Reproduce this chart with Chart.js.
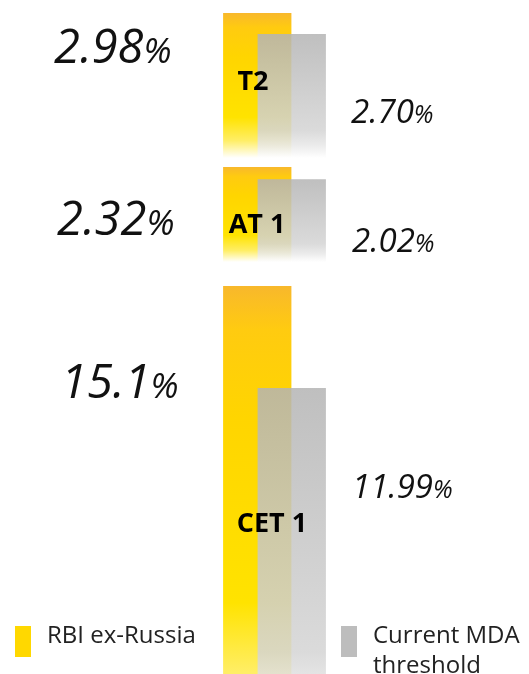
<!DOCTYPE html>
<html>
<head>
<meta charset="utf-8">
<script src="https://cdn.jsdelivr.net/npm/chart.js@4.4.1/dist/chart.umd.min.js"></script>
<style>
  body { margin: 0; width: 529px; height: 674px; overflow: hidden; background: #fff; position: relative; font-family: "Open Sans", sans-serif; color: #111; }
  .tier { position: absolute; left: 0; width: 529px; }
  .val { position: absolute; font-style: italic; line-height: 1; white-space: nowrap; }
  .val small { font-size: 0.75em; }
  .big { font-size: 47px; }
  .small { font-size: 33px; }
  .name { position: absolute; font-weight: 700; font-size: 27px; line-height: 1; color: #000; transform: translateX(-50%); white-space: nowrap; }
  .key { position: absolute; width: 16px; height: 31px; }
  .keytext { position: absolute; font-size: 24px; line-height: 30px; color: #222; }
</style>
</head>
<body>
<div id="root"></div>
<script>
// series and values (percent)
const series = ['RBI ex-Russia', 'Current MDA threshold'];
const tiers = ['T2', 'AT 1', 'CET 1'];
const rbiValues = [2.98, 2.32, 15.1];
const mdaValues = [2.70, 2.02, 11.99];
const rbiLabels = ['2.98', '2.32', '15.1'];
const mdaLabels = ['2.70', '2.02', '11.99'];

// layout of each tier block on the page
const tierTop = [13, 167, 286];
const tierHeight = [145, 95, 440];
const tierMin = [1.05, 0, 1.69];
const nameX = [253, 257, 272];
const nameBase = [90, 233, 532];
const leftValPos = [[54, 63], [57, 235], [61, 398]];
const rightValPos = [[351, 123], [352, 252], [352, 498]];

const root = document.getElementById('root');

function barFill(context) {
    const chart = context.chart;
    const area = chart.chartArea;
    if (!area) return '#ffd500';
    const top = chart.scales.y.getPixelForValue(context.raw);
    const g = chart.ctx.createLinearGradient(0, Math.max(top, area.top), 0, area.bottom);
    if (context.dataIndex === 0) {
        g.addColorStop(0, '#f8b82c');
        g.addColorStop(0.1, '#ffcb10');
        g.addColorStop(0.3, '#ffd500');
        g.addColorStop(0.72, '#ffe300');
        g.addColorStop(0.88, '#ffee66');
        g.addColorStop(1, '#ffffff');
    } else {
        g.addColorStop(0, 'rgba(180,180,180,0.85)');
        g.addColorStop(0.78, 'rgba(212,212,212,0.85)');
        g.addColorStop(0.9, 'rgba(232,232,232,0.85)');
        g.addColorStop(1, 'rgba(255,255,255,0.85)');
    }
    return g;
}

tiers.forEach((tier, i) => {
    const box = document.createElement('div');
    box.className = 'tier';
    box.style.top = tierTop[i] + 'px';
    box.style.height = tierHeight[i] + 'px';
    const canvas = document.createElement('canvas');
    box.appendChild(canvas);
    root.appendChild(box);

    new Chart(canvas, {
        type: 'bar',
        data: {
            labels: series,
            datasets: [{
                label: tier,
                data: [rbiValues[i], mdaValues[i]],
                backgroundColor: barFill,
                borderWidth: 0,
                categoryPercentage: 1,
                barPercentage: 1.98,
                clip: { left: false, right: false, top: 0, bottom: 0 }
            }]
        },
        options: {
            responsive: true,
            maintainAspectRatio: false,
            animation: false,
            layout: { padding: { left: 240, right: 220, top: 0, bottom: 0 } },
            plugins: { legend: { display: false }, tooltip: { enabled: false } },
            scales: {
                x: { display: false },
                y: { display: false, min: tierMin[i], max: rbiValues[i] }
            }
        }
    });

    const name = document.createElement('div');
    name.className = 'name';
    name.textContent = tier;
    name.style.left = nameX[i] + 'px';
    name.style.top = (nameBase[i] - 0.88 * 27) + 'px';
    root.appendChild(name);

    const lv = document.createElement('div');
    lv.className = 'val big';
    lv.innerHTML = rbiLabels[i] + '<small>%</small>';
    lv.style.left = leftValPos[i][0] + 'px';
    lv.style.top = (leftValPos[i][1] - 0.88 * 47) + 'px';
    root.appendChild(lv);

    const rv = document.createElement('div');
    rv.className = 'val small';
    rv.innerHTML = mdaLabels[i] + '<small>%</small>';
    rv.style.left = rightValPos[i][0] + 'px';
    rv.style.top = (rightValPos[i][1] - 0.88 * 33) + 'px';
    root.appendChild(rv);
});

// legend
const keyColors = ['#ffd800', '#bdbdbd'];
const keyX = [15, 341];
series.forEach((s, i) => {
    const k = document.createElement('div');
    k.className = 'key';
    k.style.left = keyX[i] + 'px';
    k.style.top = '626px';
    k.style.background = keyColors[i];
    root.appendChild(k);
    const t = document.createElement('div');
    t.className = 'keytext';
    t.style.left = (keyX[i] + 32) + 'px';
    t.style.top = '619px';
    t.style.width = i === 0 ? '190px' : '160px';
    t.textContent = s;
    root.appendChild(t);
});
</script>
</body>
</html>
